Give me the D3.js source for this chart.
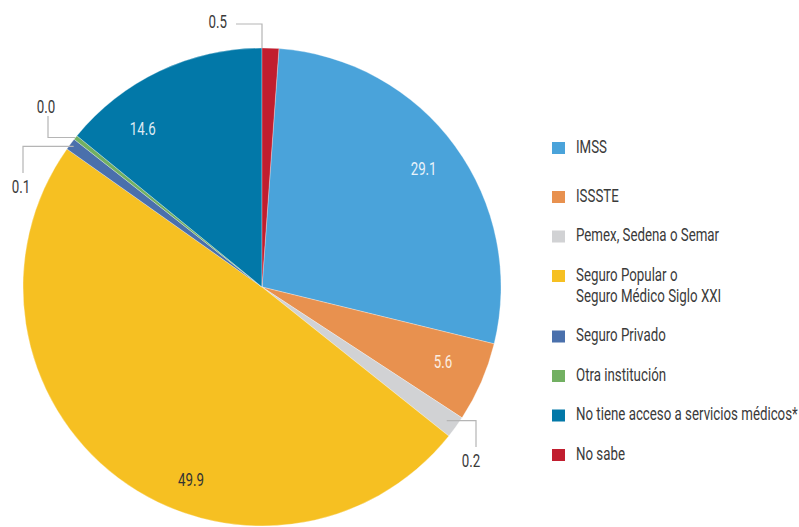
<!DOCTYPE html>
<html>
<head>
<meta charset="utf-8">
<script src="https://cdn.jsdelivr.net/npm/d3@7"></script>
<style>
  body { margin: 0; background: #fff; }
  text { font-family: Roboto, "Noto Sans", sans-serif; }
</style>
</head>
<body>
<div id="chart"></div>
<script>
// categories, in legend order
const categories = [
    'IMSS',
    'ISSSTE',
    'Pemex, Sedena o Semar',
    'Seguro Popular o\nSeguro Médico Siglo XXI',
    'Seguro Privado',
    'Otra institución',
    'No tiene acceso a servicios médicos*',
    'No sabe'
];
// printed values
const labels = ['29.1', '5.6', '0.2', '49.9', '0.1', '0.0', '14.6', '0.5'];
// slice sizes as drawn in the picture (small slices are drawn larger than printed)
const shares = [27.7, 5.4, 1.5, 49.1, 0.8, 0.3, 14.1, 1.13];
const colors = ['#4aa3da', '#e8914f', '#d1d2d4', '#f6c022', '#4a70ac', '#72b062', '#0278a8', '#c11e2f'];

const width = 799;
const height = 527;
const cx = 262, cy = 287, radius = 239;
const fontSize = 18;

const svg = d3.select('#chart')
    .append('svg')
    .attr('width', width)
    .attr('height', height);

// the reference uses a condensed face; squeeze a regular one to the same width
const probe = svg.append('text').style('font-size', fontSize + 'px').text(categories[6]);
const sx = 222 / probe.node().getComputedTextLength();
probe.remove();

function condense(t, x, y) {
    t.attr('transform', `translate(${x},${y}) scale(${sx},1) translate(${-x},${-y})`);
}

const total = d3.sum(shares);
// the last slice (No sabe) sits just right of 12 o'clock, so the pie starts after it
const offset = 2 * Math.PI * shares[shares.length - 1] / total;

const pie = d3.pie()
    .sort(null)
    .startAngle(offset)
    .endAngle(offset + 2 * Math.PI);

const arcs = pie(shares);
const arc = d3.arc().innerRadius(0).outerRadius(radius);

const g = svg.append('g').attr('transform', `translate(${cx},${cy})`);

g.selectAll('path.slice')
    .data(arcs)
    .join('path')
    .attr('class', 'slice')
    .attr('d', arc)
    .attr('fill', (d, i) => colors[i])
    .attr('stroke', '#fff')
    .attr('stroke-width', 0.3);

// point on a slice at fraction t of its angle span and radius r
function polar(d, t, r) {
    const a = d.startAngle + (d.endAngle - d.startAngle) * t;
    return [cx + r * Math.sin(a), cy - r * Math.cos(a)];
}

// labels inside the big slices
const inside = [
    { i: 0, t: 0.5, r: 200, color: '#e8f2fa' },
    { i: 1, t: 0.45, r: 196, color: '#fbeee2' },
    { i: 3, t: 0.405, r: 206, color: '#333' },
    { i: 6, t: 0.27, r: 198, color: '#dceaf3' }
];
inside.forEach(o => {
    const [x, y] = polar(arcs[o.i], o.t, o.r);
    const t = svg.append('text')
        .attr('x', x)
        .attr('y', y + 6)
        .attr('text-anchor', 'middle')
        .style('font-size', fontSize + 'px')
        .attr('fill', o.color)
        .text(labels[o.i]);
    condense(t, x, y);
});

// leader lines for the small slices
const leaders = [
    { i: 7, t: 0, r: radius, first: 'v', turn: 24, end: 236, tx: 227, ty: 28, anchor: 'end' },
    { i: 5, t: 0.5, r: radius, first: 'h', turn: 48, end: 116, tx: 46, ty: 113, anchor: 'middle' },
    { i: 4, t: 0.5, r: radius - 4, first: 'h', turn: 23, end: 173, tx: 21, ty: 193, anchor: 'middle' },
    { i: 2, t: 0.5, r: 228, first: 'h', turn: 476, end: 447, tx: 471, ty: 467, anchor: 'middle' }
];
leaders.forEach(o => {
    const [x, y] = polar(arcs[o.i], o.t, o.r);
    const pts = o.first === 'v'
        ? [[x, y], [x, o.turn], [o.end, o.turn]]
        : [[x, y], [o.turn, y], [o.turn, o.end]];
    svg.append('path')
        .attr('d', d3.line()(pts))
        .attr('fill', 'none')
        .attr('stroke', '#b5b5b5')
        .attr('stroke-width', 1.2);
    const t = svg.append('text')
        .attr('x', o.tx)
        .attr('y', o.ty)
        .attr('text-anchor', o.anchor)
        .style('font-size', fontSize + 'px')
        .attr('fill', '#3a3a3a')
        .text(labels[o.i]);
    condense(t, o.tx, o.ty);
});

// legend
const legend = svg.append('g');
let ly = 153;
categories.forEach((c, i) => {
    const lines = c.split('\n');
    legend.append('rect')
        .attr('x', 552)
        .attr('y', ly - 11)
        .attr('width', 13)
        .attr('height', 12)
        .attr('fill', colors[i]);
    const t = legend.append('text')
        .attr('x', 576)
        .attr('y', ly)
        .style('font-size', fontSize + 'px')
        .attr('fill', '#3a3a3a');
    lines.forEach((l, k) => {
        t.append('tspan').attr('x', 576).attr('dy', k === 0 ? 0 : 21).text(l);
    });
    condense(t, 576, ly);
    ly += (i === 0 ? 49 : 39.5) + (lines.length - 1) * 21;
});
</script>
</body>
</html>
